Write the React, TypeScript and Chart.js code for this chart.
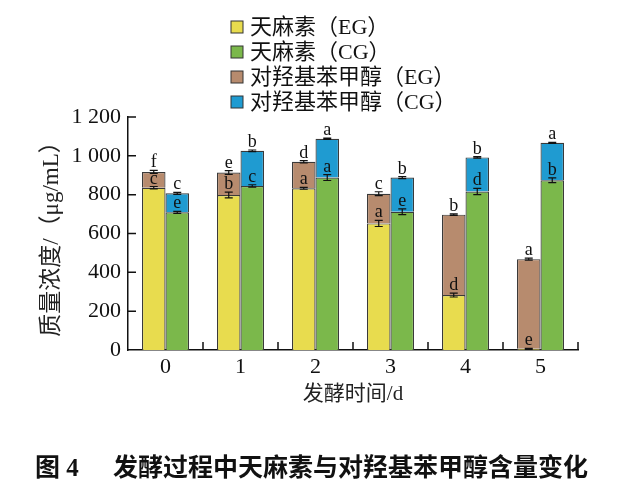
import React, { useRef, useEffect } from 'react'
import { Chart, registerables } from 'chart.js'

Chart.register(...registerables)

// fermentation time (d)
const days = ['0', '1', '2', '3', '4', '5']

// µg/mL
const gastrodinEG = [836, 798, 833, 652, 283, 6]
const gastrodinCG = [709, 845, 888, 712, 816, 874]
const hbaEG = [81, 116, 136, 153, 414, 462]
const hbaCG = [98, 181, 200, 176, 176, 193]

// error bars (±)
const gastrodinEGErr = [6, 15, 5, 16, 10, 3]
const gastrodinCGErr = [5, 6, 15, 15, 16, 12]
const hbaEGErr = [8, 10, 6, 10, 4, 5]
const hbaCGErr = [5, 4, 3, 5, 4, 3]

// significance letters
const gastrodinEGSig = ['c', 'b', 'a', 'a', 'd', 'e']
const gastrodinCGSig = ['e', 'c', 'a', 'e', 'd', 'b']
const hbaEGSig = ['f', 'e', 'd', 'c', 'b', 'a']
const hbaCGSig = ['c', 'b', 'a', 'b', 'b', 'a']

const yTicks = [0, 200, 400, 600, 800, 1000, 1200]

const SERIF = "'Liberation Serif', 'Noto Sans CJK SC', serif"

const errPlugin = {
	id: 'errLetters',
	afterDatasetsDraw(chart: any) {
		const { ctx, scales } = chart
		const y = scales.y
		chart.data.datasets.forEach((ds: any, d: number) => {
			const meta = chart.getDatasetMeta(d)
			meta.data.forEach((el: any, i: number) => {
				const e = y.getPixelForValue(0) - y.getPixelForValue(ds.err[i])
				const x = el.x
				const top = el.y
				ctx.save()
				ctx.strokeStyle = '#111'
				ctx.lineWidth = 1.2
				ctx.beginPath()
				ctx.moveTo(x, top - e)
				ctx.lineTo(x, top + e)
				ctx.moveTo(x - 4, top - e)
				ctx.lineTo(x + 4, top - e)
				ctx.moveTo(x - 4, top + e)
				ctx.lineTo(x + 4, top + e)
				ctx.stroke()
				ctx.fillStyle = '#111'
				ctx.font = `18px ${SERIF}`
				ctx.textAlign = 'center'
				ctx.textBaseline = 'alphabetic'
				ctx.fillText(ds.sig[i], x, top - e - 3)
				ctx.restore()
			})
		})
	},
}

const decoPlugin = {
	id: 'deco',
	afterDraw(chart: any) {
		const { ctx, chartArea, scales } = chart
		ctx.save()
		// inward ticks
		ctx.strokeStyle = '#111'
		ctx.lineWidth = 1.5
		ctx.beginPath()
		yTicks.forEach(v => {
			if (v === 0) return
			const py = scales.y.getPixelForValue(v)
			ctx.moveTo(chartArea.left, py)
			ctx.lineTo(chartArea.left + 8, py)
		})
		const half = (chartArea.right - chartArea.left) / days.length / 2
		days.forEach((_, i) => {
			const px = scales.x.getPixelForValue(i) + half
			ctx.moveTo(px, chartArea.bottom)
			ctx.lineTo(px, chartArea.bottom - 8)
		})
		ctx.stroke()

		// legend
		chart.data.datasets.forEach((ds: any, i: number) => {
			const cy = 27 + i * 25
			ctx.fillStyle = ds.backgroundColor
			ctx.fillRect(231, cy - 6, 12, 12)
			ctx.strokeStyle = '#333'
			ctx.lineWidth = 1
			ctx.strokeRect(231, cy - 6, 12, 12)
			ctx.fillStyle = '#111'
			ctx.font = `22px ${SERIF}`
			ctx.textAlign = 'left'
			ctx.textBaseline = 'middle'
			ctx.fillText(ds.label, 250, cy + 1)
		})

		// caption
		ctx.fillStyle = '#111'
		ctx.font = `bold 25px ${SERIF}`
		ctx.textAlign = 'left'
		ctx.textBaseline = 'middle'
		ctx.fillText('图 4', 35, 470)
		ctx.fillText('发酵过程中天麻素与对羟基苯甲醇含量变化', 113, 470)
		ctx.restore()
	},
}

const App: React.FC = () => {
	const chartRef = useRef<HTMLCanvasElement | null>(null)

	useEffect(() => {
		if (!chartRef.current) return
		const ctx = chartRef.current.getContext('2d')
		if (!ctx) return
		const bar = {
			borderColor: '#3a3a3a',
			borderWidth: 1.2,
			barPercentage: 1,
			categoryPercentage: 0.627,
		}
		const chart = new Chart(ctx, {
			type: 'bar',
			data: {
				labels: days,
				datasets: [
					{ ...bar, label: '天麻素（EG）', data: gastrodinEG, stack: 'EG', backgroundColor: '#E8DC4E', err: gastrodinEGErr, sig: gastrodinEGSig },
					{ ...bar, label: '天麻素（CG）', data: gastrodinCG, stack: 'CG', backgroundColor: '#7BB84B', err: gastrodinCGErr, sig: gastrodinCGSig },
					{ ...bar, label: '对羟基苯甲醇（EG）', data: hbaEG, stack: 'EG', backgroundColor: '#B78B6E', err: hbaEGErr, sig: hbaEGSig },
					{ ...bar, label: '对羟基苯甲醇（CG）', data: hbaCG, stack: 'CG', backgroundColor: '#1F9BD1', err: hbaCGErr, sig: hbaCGSig },
				] as any,
			},
			options: {
				animation: false,
				responsive: true,
				maintainAspectRatio: false,
				layout: { padding: { top: 117, right: 47, left: 0, bottom: 0 } },
				plugins: {
					legend: { display: false },
					tooltip: { enabled: false },
				},
				scales: {
					x: {
						stacked: true,
						grid: { display: false, drawTicks: false },
						border: { display: true, color: '#111', width: 1.5 },
						ticks: { color: '#111', padding: 4, font: { family: SERIF, size: 22 } },
						title: {
							display: true,
							text: '发酵时间/d',
							color: '#222',
							font: { family: SERIF, size: 21 },
							padding: { top: 0, bottom: 94 },
						},
						afterFit: (s: any) => {
							s.height = 151
						},
					},
					y: {
						stacked: true,
						min: 0,
						max: 1200,
						grid: { display: false, drawTicks: false },
						border: { display: true, color: '#111', width: 1.5 },
						ticks: {
							stepSize: 200,
							color: '#111',
							padding: 7,
							font: { family: SERIF, size: 22 },
							callback: (v: any) =>
								v >= 1000 ? `${Math.floor(v / 1000)} ${String(v % 1000).padStart(3, '0')}` : String(v),
						},
						title: {
							display: true,
							text: '质量浓度/（μg/mL）',
							color: '#222',
							font: { family: SERIF, size: 23 },
							padding: { top: 38, bottom: 0 },
						},
						afterFit: (s: any) => {
							s.width = 128
						},
					},
				},
			},
			plugins: [errPlugin, decoPlugin],
		})
		return () => {
			chart.destroy()
		}
	}, [])

	return (
		<div style={{ position: 'fixed', left: 0, top: 0, width: 625, height: 501, background: '#fff' }}>
			<canvas ref={chartRef} />
		</div>
	)
}

export default App
